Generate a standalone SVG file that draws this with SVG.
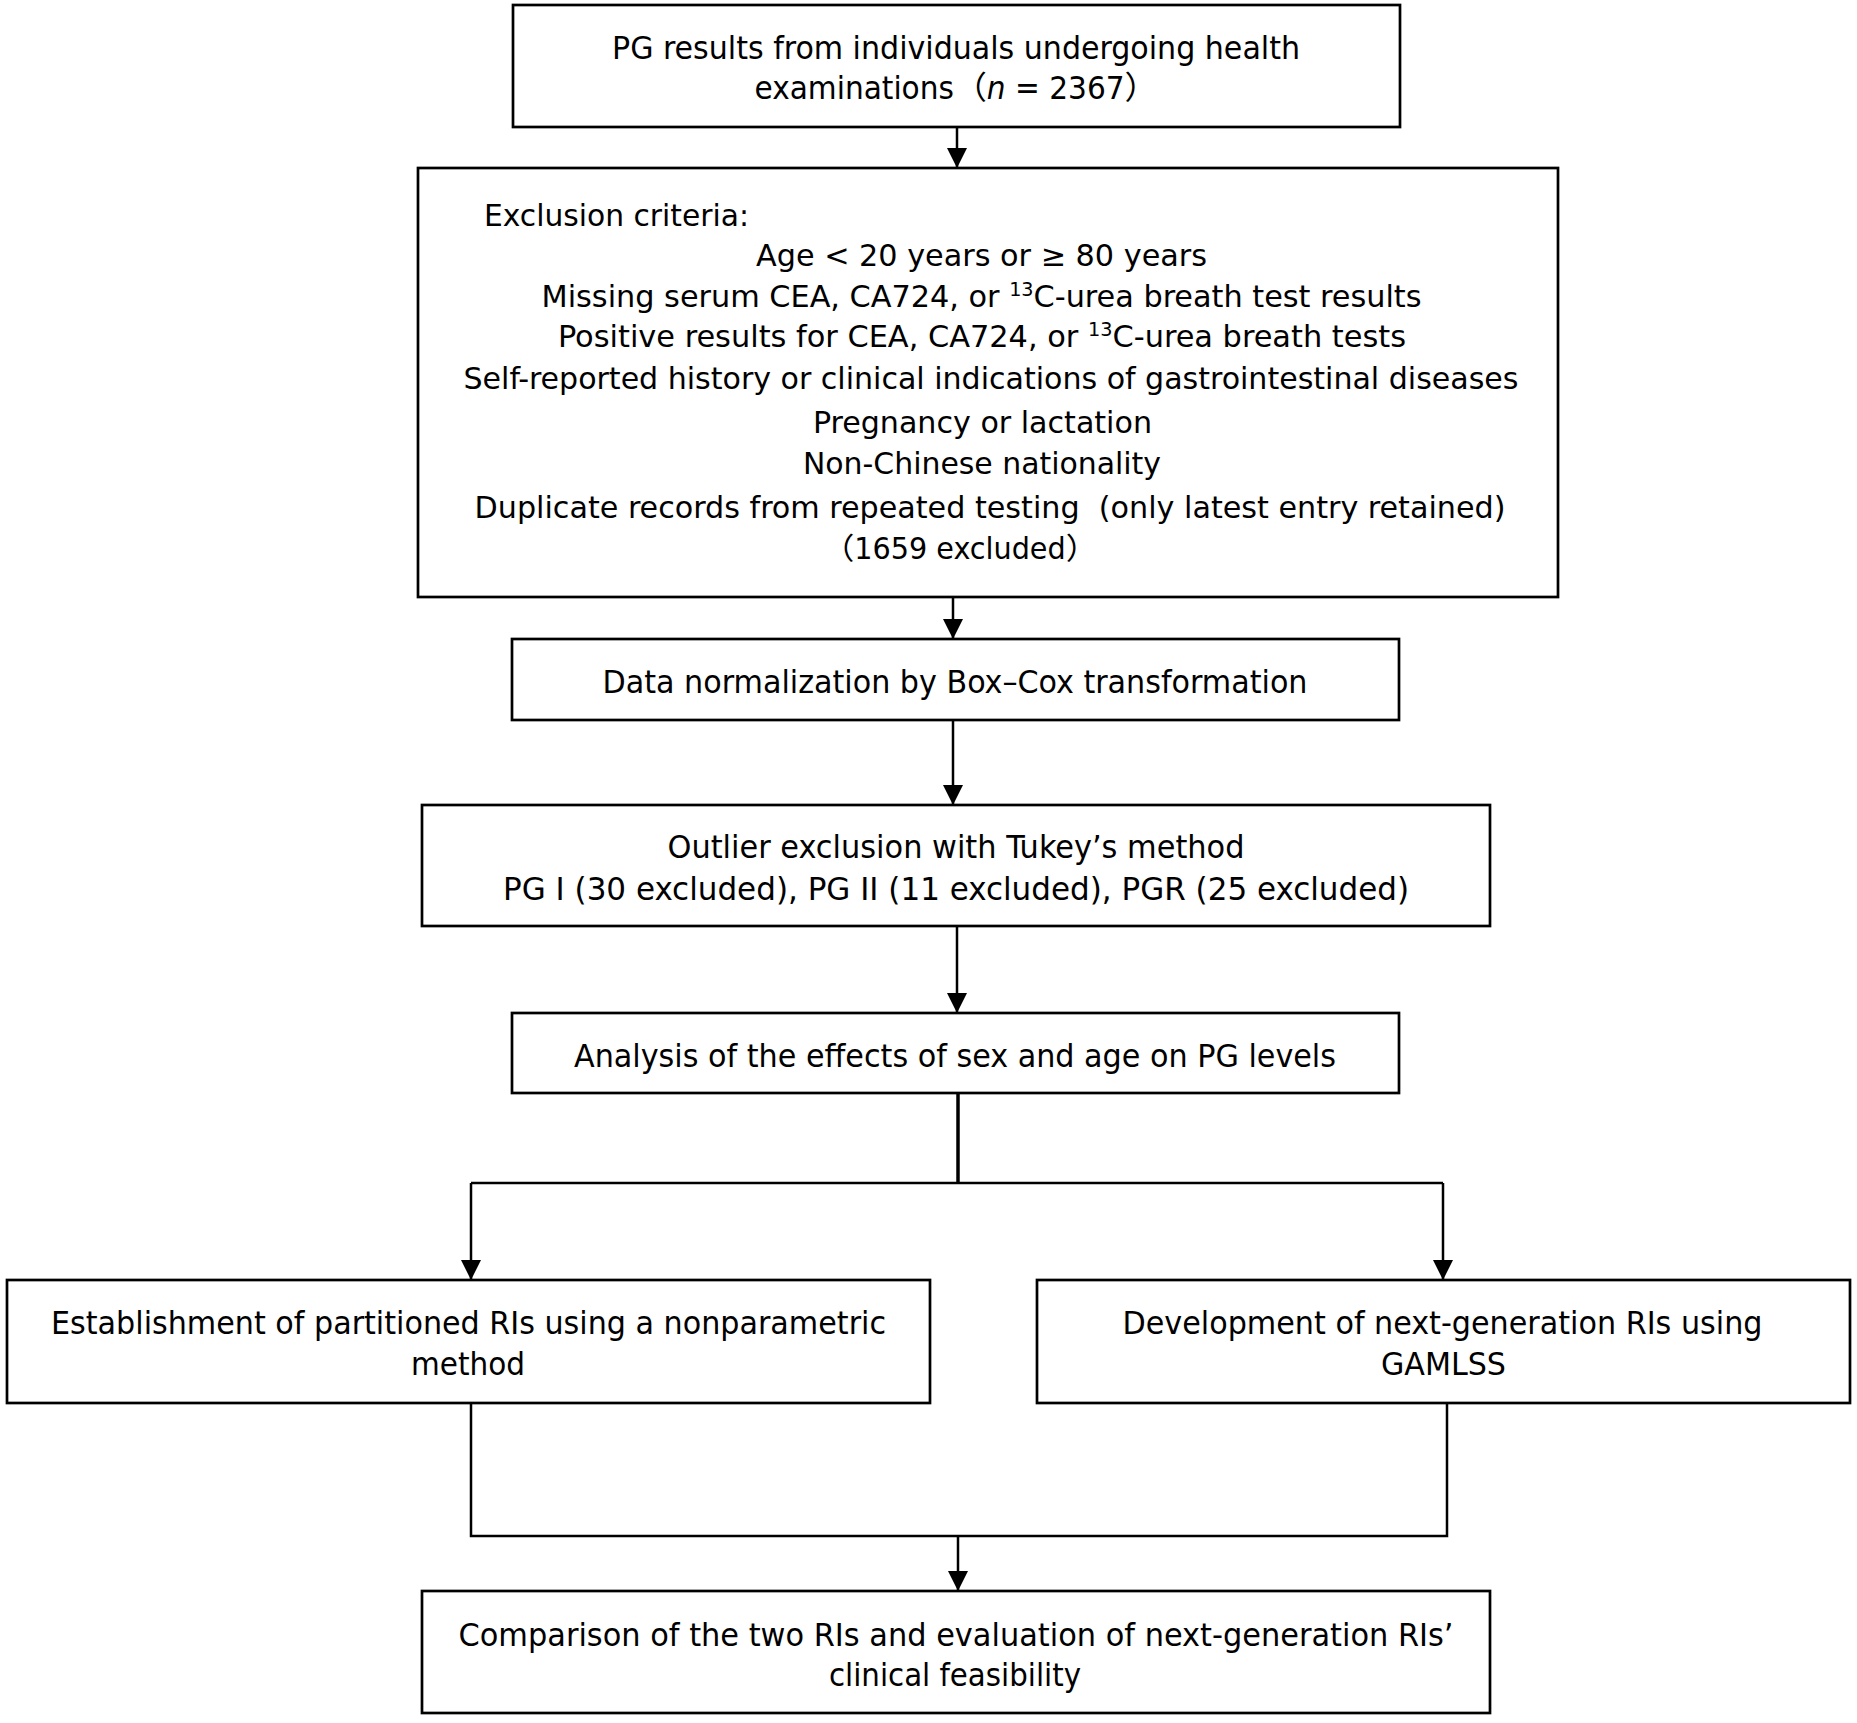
<svg xmlns="http://www.w3.org/2000/svg" width="1857" height="1723" viewBox="0 0 1857 1723">
<style>
.box{fill:#fff;stroke:#000;stroke-width:2.7}
.t{font-family:"DejaVu Sans Condensed","DejaVu Sans","Noto Sans CJK SC",sans-serif;font-size:32px;fill:#000;text-anchor:middle}
.s{font-size:30px}
.l{text-anchor:start}
.c{fill:none;stroke:#000;stroke-width:2.5}
.sup{font-size:19px}
</style>
<defs>
<marker id="ah" markerUnits="userSpaceOnUse" markerWidth="20" markerHeight="20" refX="20" refY="10" orient="auto" viewBox="0 0 20 20">
<path d="M0,0 L20,10 L0,20 z" fill="#000"/>
</marker>
</defs>
<rect width="1857" height="1723" fill="#fff"/>
<g id="connectors">
<path class="c" d="M957,127 V168" marker-end="url(#ah)"/>
<path class="c" d="M953,598 V639" marker-end="url(#ah)"/>
<path class="c" d="M953,720 V805" marker-end="url(#ah)"/>
<path class="c" d="M957,926 V1013" marker-end="url(#ah)"/>
<path class="c" d="M958,1093 V1183" style="stroke-width:3.5"/>
<path class="c" d="M471,1183 H1443"/>
<path class="c" d="M471,1183 V1280" marker-end="url(#ah)"/>
<path class="c" d="M1443,1183 V1280" marker-end="url(#ah)"/>
<path class="c" d="M471,1403 V1536 H1447 V1403"/>
<path class="c" d="M958,1536 V1591" marker-end="url(#ah)"/>
</g>
<g id="n1">
<rect class="box" x="513" y="5" width="887" height="122"/>
<text class="t" x="956" y="59" textLength="688" lengthAdjust="spacingAndGlyphs">PG results from individuals undergoing health</text>
<text class="t" x="956" y="99" textLength="403" lengthAdjust="spacingAndGlyphs">examinations（<tspan font-style="italic">n</tspan> = 2367）</text>
</g>
<g id="n2">
<rect class="box" x="418" y="168" width="1140" height="429"/>
<text class="t s l" x="484" y="226" textLength="265" lengthAdjust="spacingAndGlyphs">Exclusion criteria:</text>
<text class="t s" x="981.5" y="266" textLength="451" lengthAdjust="spacingAndGlyphs">Age &lt; 20 years or ≥ 80 years</text>
<text class="t s" x="981.5" y="307" textLength="880" lengthAdjust="spacingAndGlyphs">Missing serum CEA, CA724, or <tspan class="sup" dy="-11">13</tspan><tspan dy="11">C-urea breath test results</tspan></text>
<text class="t s" x="982" y="347" textLength="848" lengthAdjust="spacingAndGlyphs">Positive results for CEA, CA724, or <tspan class="sup" dy="-11">13</tspan><tspan dy="11">C-urea breath tests</tspan></text>
<text class="t s" x="991" y="389" textLength="1055" lengthAdjust="spacingAndGlyphs">Self-reported history or clinical indications of gastrointestinal diseases</text>
<text class="t s" x="982.5" y="433" textLength="339" lengthAdjust="spacingAndGlyphs">Pregnancy or lactation</text>
<text class="t s" x="982" y="474" textLength="358" lengthAdjust="spacingAndGlyphs">Non-Chinese nationality</text>
<text class="t s" x="990" y="518" textLength="1031" lengthAdjust="spacingAndGlyphs">Duplicate records from repeated testing &#160;(only latest entry retained)</text>
<text class="t s" x="960" y="559" textLength="275" lengthAdjust="spacingAndGlyphs">（1659 excluded）</text>
</g>
<g id="n3">
<rect class="box" x="512" y="639" width="887" height="81"/>
<text class="t" x="955" y="693" textLength="705" lengthAdjust="spacingAndGlyphs">Data normalization by Box–Cox transformation</text>
</g>
<g id="n4">
<rect class="box" x="422" y="805" width="1068" height="121"/>
<text class="t" x="956" y="858" textLength="577" lengthAdjust="spacingAndGlyphs">Outlier exclusion with Tukey’s method</text>
<text class="t" x="956" y="900" textLength="906" lengthAdjust="spacingAndGlyphs">PG I (30 excluded), PG II (11 excluded), PGR (25 excluded)</text>
</g>
<g id="n5">
<rect class="box" x="512" y="1013" width="887" height="80"/>
<text class="t" x="955" y="1067" textLength="762" lengthAdjust="spacingAndGlyphs">Analysis of the effects of sex and age on PG levels</text>
</g>
<g id="n6">
<rect class="box" x="7" y="1280" width="923" height="123"/>
<text class="t" x="468.5" y="1334" textLength="835" lengthAdjust="spacingAndGlyphs">Establishment of partitioned RIs using a nonparametric</text>
<text class="t" x="468" y="1375" textLength="114" lengthAdjust="spacingAndGlyphs">method</text>
</g>
<g id="n7">
<rect class="box" x="1037" y="1280" width="813" height="123"/>
<text class="t" x="1442.5" y="1334" textLength="640" lengthAdjust="spacingAndGlyphs">Development of next-generation RIs using</text>
<text class="t" x="1443.5" y="1375" textLength="125" lengthAdjust="spacingAndGlyphs">GAMLSS</text>
</g>
<g id="n8">
<rect class="box" x="422" y="1591" width="1068" height="122"/>
<text class="t" x="956" y="1646" textLength="995" lengthAdjust="spacingAndGlyphs">Comparison of the two RIs and evaluation of next-generation RIs’</text>
<text class="t" x="955" y="1686" textLength="252" lengthAdjust="spacingAndGlyphs">clinical feasibility</text>
</g>
</svg>
